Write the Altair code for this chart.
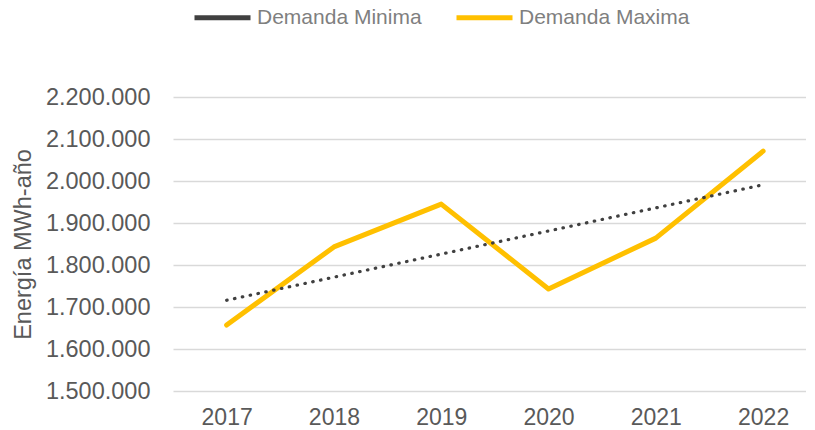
import altair as alt
import pandas as pd

years = [2017, 2018, 2019, 2020, 2021, 2022]
demanda_maxima = [1657000, 1843000, 1945000, 1743000, 1864000, 2071000]
demanda_minima = [1716000, 1771000, 1826000, 1881000, 1936000, 1991000]
series_names = ["Demanda Minima", "Demanda Maxima"]
y_ticks = [1500000, 1600000, 1700000, 1800000, 1900000, 2000000, 2100000, 2200000]

df = pd.DataFrame(
    {"year": years * 2,
     "value": demanda_minima + demanda_maxima,
     "serie": [series_names[0]] * len(years) + [series_names[1]] * len(years)}
)

FONT = "Liberation Sans"

color = alt.Color(
    "serie:N",
    scale=alt.Scale(domain=series_names, range=["#404040", "#FFC000"]),
    legend=alt.Legend(
        title=None, orient="none", direction="horizontal",
        legendX=19, legendY=-110,
        symbolType="stroke", symbolSize=3136, symbolStrokeWidth=5,
        symbolDash=[1000, 0],
        labelFont=FONT, labelFontSize=21, labelColor="#7f7f7f", labelLimit=400,
        labelOffset=4, columnPadding=24,
    ),
)

x = alt.X(
    "year:Q",
    scale=alt.Scale(domain=[2016.5, 2022.4], nice=False, zero=False),
    axis=alt.Axis(values=years, format="d", title=None, grid=False, domain=False,
                  ticks=False, labelFont=FONT, labelFontSize=23, labelColor="#595959",
                  labelPadding=15, labelFlush=False),
)
y = alt.Y(
    "value:Q",
    scale=alt.Scale(domain=[1500000, 2200000], nice=False, zero=False),
    axis=alt.Axis(values=y_ticks, title="Energía MWh-año",
                  labelExpr="replace(format(datum.value, ','), /,/g, '.')",
                  grid=True, gridColor="#d9d9d9", gridWidth=1.5, domain=False, ticks=False,
                  labelFont=FONT, labelFontSize=23.5, labelColor="#595959", labelPadding=23,
                  titleFont=FONT, titleFontSize=23.5, titleFontWeight="normal",
                  titleColor="#595959", titleX=-150, titleY=147, titleAngle=-90,
                  titleAlign="center", titleBaseline="middle"),
)

maxima = alt.Chart(df).transform_filter(
    alt.datum.serie == series_names[1]
).mark_line(strokeWidth=5, strokeCap="round", strokeJoin="round").encode(
    x=x, y=y, color=color
)
minima = alt.Chart(df).transform_filter(
    alt.datum.serie == series_names[0]
).mark_line(strokeWidth=3.2, strokeDash=[0.5, 7.5], strokeCap="round").encode(
    x=x, y=y, color=alt.Color("serie:N", scale=alt.Scale(domain=series_names, range=["#595959", "#FFC000"]), legend=None)
)

chart = alt.layer(maxima, minima).properties(
    width=633, height=294,
    autosize=alt.AutoSizeParams(type="none"),
    padding={"left": 165, "top": 89, "right": 0, "bottom": 36},
    background="white",
).configure_view(stroke=None)

chart.save("out.html", embed_options={"renderer": "svg", "actions": False})
